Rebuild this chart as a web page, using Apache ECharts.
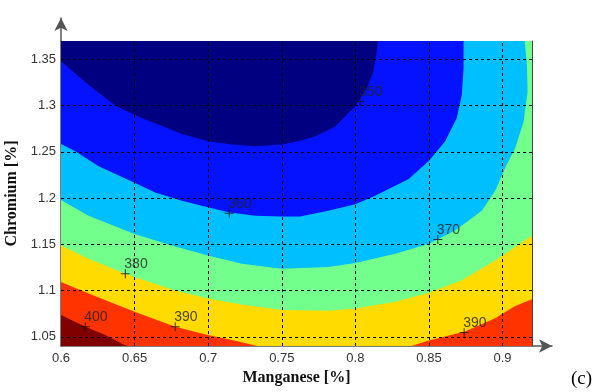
<!DOCTYPE html>
<html>
<head>
<meta charset="utf-8">
<script src="https://cdn.jsdelivr.net/npm/echarts@6/dist/echarts.min.js"></script>
<style>
  html, body { margin: 0; padding: 0; background: #fff; }
  #chart { width: 596px; height: 392px; }
</style>
</head>
<body>
<div id="chart"></div>
<script>
// plot extents (Manganese on x, Chromium on y)
const xMin = 0.6, xMax = 0.92, yMin = 1.04, yMax = 1.37;

const xTickLabels = [0.6, 0.65, 0.7, 0.75, 0.8, 0.85, 0.9];
const yTickLabels = [1.05, 1.1, 1.15, 1.2, 1.25, 1.3, 1.35];
const xMinorTicks = [0.6, 0.61, 0.62, 0.63, 0.64, 0.65, 0.66, 0.67, 0.68, 0.69, 0.7, 0.71, 0.72, 0.73, 0.74, 0.75,
  0.76, 0.77, 0.78, 0.79, 0.8, 0.81, 0.82, 0.83, 0.84, 0.85, 0.86, 0.87, 0.88, 0.89, 0.9, 0.91];
const yMinorTicks = [1.05, 1.075, 1.1, 1.125, 1.15, 1.175, 1.2, 1.225, 1.25, 1.275, 1.3, 1.325, 1.35];

// contour lines, [x, y]
const c350 = [[0.6, 1.348], [0.6188, 1.3224], [0.6369, 1.3002], [0.65, 1.29], [0.664, 1.281], [0.6821, 1.2694],
  [0.6998, 1.2615], [0.716, 1.258], [0.7319, 1.2561], [0.75, 1.258], [0.7624, 1.2622], [0.7726, 1.2668],
  [0.7862, 1.2776], [0.7998, 1.2993], [0.8077, 1.3188], [0.8122, 1.3367], [0.8145, 1.3582], [0.8152, 1.37]];
const c360 = [[0.6, 1.2586], [0.6097, 1.2507], [0.6256, 1.2346], [0.65, 1.2167], [0.664, 1.206], [0.6821, 1.1971],
  [0.6998, 1.19], [0.7138, 1.1846], [0.7319, 1.181], [0.75, 1.18], [0.7624, 1.18], [0.7816, 1.1864], [0.8, 1.1935],
  [0.8134, 1.2025], [0.8202, 1.2079], [0.836, 1.2203], [0.8497, 1.24], [0.861, 1.2615], [0.8689, 1.2866],
  [0.8723, 1.3116], [0.8735, 1.3403], [0.8735, 1.37]];
const c370 = [[0.6, 1.198], [0.6188, 1.181], [0.65, 1.1613], [0.6753, 1.1487], [0.6998, 1.138], [0.7229, 1.129],
  [0.75, 1.1237], [0.7816, 1.1254], [0.8, 1.1297], [0.827, 1.1398], [0.85, 1.1507], [0.8678, 1.165],
  [0.8859, 1.1864], [0.895, 1.2079], [0.9018, 1.2328], [0.9086, 1.2543], [0.9143, 1.283], [0.917, 1.3152],
  [0.9166, 1.3439], [0.915, 1.37]];
const c380 = [[0.6, 1.1487], [0.6188, 1.1344], [0.6437, 1.1183], [0.65, 1.1147], [0.6753, 1.1011], [0.6998, 1.0914],
  [0.7229, 1.085], [0.75, 1.0789], [0.7816, 1.0782], [0.8, 1.0806], [0.827, 1.0878], [0.85, 1.0975],
  [0.8722, 1.1111], [0.895, 1.1326], [0.9086, 1.147], [0.92, 1.1595]];
const c390a = [[0.6, 1.1093], [0.6188, 1.0968], [0.65, 1.0771], [0.6776, 1.0609], [0.6998, 1.052], [0.7161, 1.0466],
  [0.7335, 1.04]];
const c390b = [[0.838, 1.04], [0.85, 1.0459], [0.8744, 1.0556], [0.895, 1.0699], [0.9086, 1.0832], [0.92, 1.0905]];
const c400 = [[0.6, 1.0735], [0.6165, 1.0609], [0.6301, 1.052], [0.6414, 1.0423], [0.6455, 1.04]];

// contour labels: x, y, level
const labelPoints = [[0.8032, 1.3045, 350], [0.7143, 1.1835, 360], [0.856, 1.1552, 370], [0.6437, 1.1183, 380],
  [0.6776, 1.0609, 390], [0.8739, 1.0545, 390], [0.6165, 1.0609, 400]];

// filled bands, painted from the highest level down
const regionColors = ["#800000", "#FF3300", "#FFDB00", "#73FF8C", "#00BFFF", "#0512FF", "#000080"];
const regionPolys = [
  [[xMin, yMin], [xMax, yMin], [xMax, yMax], [xMin, yMax]],
  c400.concat([[xMax, yMin], [xMax, yMax], [xMin, yMax]]),
  c390a.concat(c390b, [[xMax, yMax], [xMin, yMax]]),
  c380.concat([[xMax, yMax], [xMin, yMax]]),
  c370.concat([[xMin, yMax]]),
  c360.concat([[xMin, yMax]]),
  c350.concat([[xMin, yMax]])
];

const tickFont = { fontFamily: "Liberation Sans", fontSize: 13, color: "#333" };
const nameFont = { fontFamily: "Liberation Serif", fontSize: 16, fontWeight: "bold", color: "#111" };
const frameColor = "#444";

const myChart = echarts.init(document.getElementById("chart"), null, { renderer: "canvas" });

const option = {
  animation: false,
  title: {
    text: "(c)",
    left: 571,
    top: 370,
    padding: 0,
    textStyle: { fontFamily: "Liberation Serif", fontSize: 19, fontWeight: "normal", color: "#000" }
  },
  grid: [
    { left: 61, right: 64, top: 41, bottom: 46, containLabel: false, outerBoundsMode: "none" },
    { left: 61, right: 44, top: 18, bottom: 46, containLabel: false, outerBoundsMode: "none" }
  ],
  xAxis: [
    {
      gridIndex: 0, type: "value", min: xMin, max: xMax, position: "bottom",
      axisLine: { show: false },
      splitLine: { show: false },
      axisTick: { inside: true, length: 4, customValues: xMinorTicks, lineStyle: { color: "#333" } },
      axisLabel: Object.assign({ customValues: xTickLabels, margin: 6 }, tickFont),
      name: "Manganese [%]", nameLocation: "middle", nameGap: 20, nameTextStyle: nameFont
    },
    {
      gridIndex: 0, type: "value", min: xMin, max: xMax, position: "top",
      axisLine: { show: true, lineStyle: { color: frameColor, width: 1 } },
      splitLine: { show: false },
      axisTick: { inside: true, length: 4, customValues: xMinorTicks, lineStyle: { color: "#333" } },
      axisLabel: { show: false }
    },
    {
      gridIndex: 1, type: "value", min: 0, max: 1,
      axisLine: { show: true, onZero: false, symbol: ["none", "arrow"], symbolSize: [10, 13],
        lineStyle: { color: "#555", width: 1.5 } },
      splitLine: { show: false }, axisTick: { show: false }, axisLabel: { show: false }
    }
  ],
  yAxis: [
    {
      gridIndex: 0, type: "value", min: yMin, max: yMax, position: "left",
      axisLine: { show: false },
      splitLine: { show: false },
      axisTick: { inside: true, length: 4, customValues: yMinorTicks, lineStyle: { color: "#333" } },
      axisLabel: Object.assign({ customValues: yTickLabels, margin: 5 }, tickFont),
      name: "Chromium [%]", nameLocation: "middle", nameGap: 33, nameRotate: 90, nameTextStyle: nameFont
    },
    {
      gridIndex: 0, type: "value", min: yMin, max: yMax, position: "right",
      axisLine: { show: true, lineStyle: { color: frameColor, width: 1 } },
      splitLine: { show: false },
      axisTick: { inside: true, length: 4, customValues: yMinorTicks, lineStyle: { color: "#333" } },
      axisLabel: { show: false }
    },
    {
      gridIndex: 1, type: "value", min: 0, max: 1,
      axisLine: { show: true, onZero: false, symbol: ["none", "arrow"], symbolSize: [10, 13],
        lineStyle: { color: "#555", width: 1.5 } },
      splitLine: { show: false }, axisTick: { show: false }, axisLabel: { show: false }
    }
  ],
  series: [
    {
      // filled contour bands
      type: "custom",
      xAxisIndex: 0, yAxisIndex: 0,
      silent: true,
      clip: true,
      data: regionPolys.map(() => [xMin, yMin]),
      renderItem: function (params, api) {
        const pts = regionPolys[params.dataIndex].map(p => api.coord(p));
        return {
          type: "polygon",
          shape: { points: pts },
          style: { fill: regionColors[params.dataIndex], stroke: null }
        };
      },
      z: 1
    },
    {
      // dashed grid
      type: "line",
      xAxisIndex: 0, yAxisIndex: 0,
      data: [],
      silent: true,
      z: 3,
      markLine: {
        silent: true,
        symbol: "none",
        label: { show: false },
        animation: false,
        lineStyle: { color: "#000", type: [3, 3], width: 1 },
        data: xTickLabels.slice(1).map(v => ({ xAxis: v })).concat(yTickLabels.map(v => ({ yAxis: v })))
      }
    },
    {
      // contour labels
      type: "scatter",
      xAxisIndex: 0, yAxisIndex: 0,
      symbol: "path://M4,0h1v4h4v1h-4v4h-1v-4h-4v-1h4z",
      symbolSize: 9,
      itemStyle: { color: "#111" },
      z: 4,
      silent: true,
      data: labelPoints,
      label: {
        show: true,
        formatter: p => String(p.value[2]),
        position: [3.5, -12],
        fontFamily: "Liberation Sans",
        fontSize: 14,
        color: "#222"
      }
    }
  ]
};

myChart.setOption(option);
</script>
</body>
</html>
